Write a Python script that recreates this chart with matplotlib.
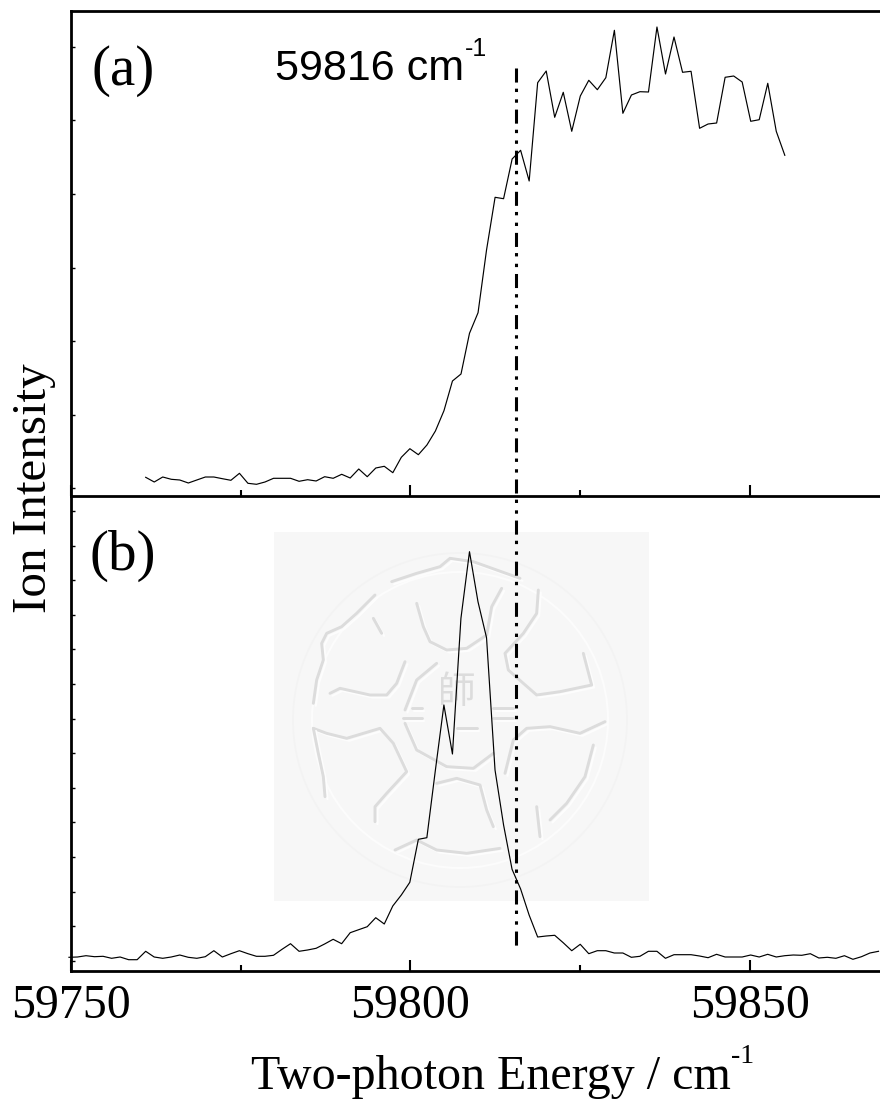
import matplotlib
matplotlib.use('Agg')
import matplotlib.pyplot as plt
from matplotlib.patches import Rectangle, Circle

W = 880
H = 1104
SERIF = 'Liberation Serif'
SANS = 'Liberation Sans'

# Panel (a) spectrum, intensity in arbitrary units
energy_a = [59761.00, 59762.26, 59763.51, 59764.77, 59766.02, 59767.28, 59768.53, 59769.79,
            59771.04, 59772.30, 59773.55, 59774.81, 59776.06, 59777.32, 59778.57, 59779.83,
            59781.08, 59782.34, 59783.59, 59784.85, 59786.10, 59787.36, 59788.61, 59789.87,
            59791.12, 59792.38, 59793.63, 59794.89, 59796.14, 59797.40, 59798.65, 59799.91,
            59801.16, 59802.42, 59803.67, 59804.93, 59806.18, 59807.44, 59808.69, 59809.95,
            59811.20, 59812.46, 59813.71, 59814.97, 59816.22, 59817.48, 59818.73, 59819.99,
            59821.24, 59822.50, 59823.75, 59825.01, 59826.26, 59827.52, 59828.77, 59830.03,
            59831.28, 59832.54, 59833.79, 59835.05, 59836.30, 59837.56, 59838.81, 59840.07,
            59841.32, 59842.58, 59843.83, 59845.09, 59846.34, 59847.60, 59848.85, 59850.11,
            59851.36, 59852.62, 59853.87, 59855.13]
signal_a = [17.7, 13, 18, 15.7, 15, 12, 15, 18, 18, 16.3, 14.7, 21.7, 11.7, 10.7, 13, 16.7,
            16.7, 16.7, 13.7, 15.3, 14, 18.3, 16.7, 20.7, 17, 26, 18.3, 27, 28.7, 22.3,
            37.7, 46.3, 40.3, 50, 64, 84.3, 114, 121, 161.7, 182.3, 245, 297.7, 296.3,
            336, 344.7, 314, 412.3, 424, 377.7, 402.7, 363.7, 399, 414.7, 405.3, 417.3,
            464.7, 381.7, 400, 403.3, 403, 468, 421, 458, 422.7, 423.7, 366.7, 371, 372,
            417.7, 419, 413, 373.7, 375.3, 411.7, 363.7, 339.7]

# Panel (b) spectrum
energy_b = [59749.70, 59750.96, 59752.21, 59753.47, 59754.72, 59755.98, 59757.23, 59758.49,
            59759.74, 59761.00, 59762.25, 59763.51, 59764.76, 59766.02, 59767.27, 59768.53,
            59769.78, 59771.04, 59772.29, 59773.55, 59774.80, 59776.06, 59777.31, 59778.57,
            59779.82, 59781.08, 59782.33, 59783.59, 59784.84, 59786.10, 59787.35, 59788.61,
            59789.86, 59791.12, 59792.37, 59793.63, 59794.88, 59796.14, 59797.39, 59798.65,
            59799.90, 59801.16, 59802.41, 59803.67, 59804.92, 59806.18, 59807.43, 59808.69,
            59809.94, 59811.20, 59812.45, 59813.71, 59814.96, 59816.22, 59817.47, 59818.73,
            59819.98, 59821.24, 59822.49, 59823.75, 59825.00, 59826.26, 59827.51, 59828.77,
            59830.02, 59831.28, 59832.53, 59833.79, 59835.04, 59836.30, 59837.55, 59838.81,
            59840.06, 59841.32, 59842.57, 59843.83, 59845.08, 59846.34, 59847.59, 59848.85,
            59850.10, 59851.36, 59852.61, 59853.87, 59855.12, 59856.38, 59857.63, 59858.89,
            59860.14, 59861.40, 59862.65, 59863.91, 59865.16, 59866.42, 59867.67, 59868.93]
signal_b = [13.7, 14, 15.3, 14.3, 14.7, 12.7, 14, 11.3, 11.3, 19.7, 14, 12.7, 14, 16, 13.7,
            12.7, 14.3, 20.3, 14, 17.3, 20.3, 17.3, 14.7, 14.7, 15.7, 21.7, 27.3, 19.7, 21,
            22.7, 27, 31.7, 27.3, 38.3, 41.3, 44.3, 53.3, 47, 65, 76, 88.7, 131.7, 133.3,
            201, 266, 217, 352.7, 419.3, 369.3, 333.3, 201, 146, 101.7, 82, 56, 34, 35, 35.7,
            28.3, 20.3, 26.7, 17.3, 20.3, 20.3, 18, 18, 13.7, 14.7, 19.7, 19.7, 12.7, 16.3,
            16.3, 16.3, 15, 13.3, 16.7, 14, 14, 14, 16, 14, 16.7, 14, 15.3, 16, 15.7, 17.3,
            13, 13.7, 12.7, 15.3, 11.7, 14.3, 18, 19.7]

x_major = [59750, 59800, 59850]
x_minor = [59775, 59825]
y_ticks_a = [7, 80, 154, 227.3, 301, 375, 448.3]
y_ticks_b = [10.3, 44.9, 79.5, 114.1, 148.7, 183.3, 217.9, 252.5, 287.1, 321.7, 356.3, 390.9, 425.5, 460.1]
threshold = 59815.6

# Watermark strokes, drawn behind the axes
emblem = [
    [(395, 185), (470, 160), (540, 140), (570, 115), (640, 125), (780, 175)],
    [(345, 225), (290, 280), (245, 320), (200, 340), (185, 370), (190, 420), (170, 480), (160, 550)],
    [(210, 520), (240, 505), (330, 525), (380, 525), (410, 490), (435, 425)],
    [(340, 295), (365, 340)],
    [(470, 250), (490, 320), (510, 365), (560, 390), (620, 385), (680, 345), (695, 260), (725, 205)],
    [(835, 210), (830, 280), (790, 340), (735, 400), (745, 450), (790, 490), (830, 525), (900, 515), (995, 495), (970, 400)],
    [(1035, 605), (960, 640), (870, 620), (800, 625), (760, 660), (735, 760)],
    [(1000, 675), (975, 770), (920, 850), (870, 900)],
    [(830, 860), (840, 950)],
    [(160, 625), (200, 640), (260, 655), (360, 625), (400, 670), (440, 755), (380, 820), (345, 860), (345, 905)],
    [(160, 625), (175, 700), (190, 770), (195, 830)],
    [(405, 990), (470, 960), (530, 990), (620, 1000), (720, 985)],
    [(530, 790), (590, 775), (660, 795), (680, 870), (700, 920)],
    [(530, 430), (470, 480), (435, 570)],
    [(435, 610), (470, 690), (560, 740), (640, 745), (700, 700)],
    [(455, 565), (485, 565)], [(430, 595), (485, 595)],
    [(700, 565), (760, 565)], [(700, 595), (760, 595)],
    [(590, 625), (650, 625)],
]


def fx(px):
    return px / W


def fy(py):
    return 1 - py / H


fig = plt.figure(figsize=(W / 100, H / 100), dpi=100, facecolor='white')

# Background layer in image pixels
bg = fig.add_axes([0, 0, 1, 1], zorder=0)
bg.set_xlim(0, W)
bg.set_ylim(H, 0)
bg.axis('off')
bg.add_patch(Rectangle((274, 532), 375, 369, facecolor='#f7f7f7', edgecolor='none'))
bg.add_patch(Circle((460, 720), 167, fill=False, edgecolor='#f3f3f3', lw=1.2))
bg.add_patch(Circle((460, 720), 148, fill=False, edgecolor='#fcfcfc', lw=1.5))
for stroke in emblem:
    bg.plot([262.5 + p[0] / 3 for p in stroke], [522.5 + p[1] / 3 for p in stroke],
            color='#fdfdfd', lw=1.5, solid_capstyle='round')
    bg.plot([260 + p[0] / 3 for p in stroke], [520 + p[1] / 3 for p in stroke],
            color='#dcdcdc', lw=2.1, solid_capstyle='round')
bg.text(457, 693, '師', family=['Noto Sans CJK TC', 'DejaVu Sans'], fontsize=27,
        color='#dcdcdc', ha='center', va='center')

ax_a = fig.add_axes([fx(71), fy(496), (W - 71) / W, 485 / H], zorder=1)
ax_b = fig.add_axes([fx(71), fy(971), (W - 71) / W, 475 / H], zorder=2)

ax_a.plot(energy_a, signal_a, color='black', lw=0.85)
ax_b.plot(energy_b, signal_b, color='black', lw=0.85, clip_on=False)

# Dash-dot-dot marker through both panels, dashes counted from the top end
ax_b.plot([threshold, threshold], [903, 25], color='black', lw=2.2, clip_on=False,
          dash_capstyle='butt', linestyle=(0, (4.6, 2, 1.1, 2.4, 1.1, 2.25)))

for ax in [ax_a, ax_b]:
    ax.patch.set_alpha(0)
    ax.set_xlim(59750, 59869.15)
    ax.spines['right'].set_visible(False)
    for side in ['left', 'bottom', 'top']:
        ax.spines[side].set_linewidth(2)
    ax.set_xticks(x_major)
    ax.set_xticks(x_minor, minor=True)
    ax.tick_params(axis='x', which='major', direction='in', length=8, width=1.5)
    ax.tick_params(axis='x', which='minor', direction='in', length=4.5, width=1.5)
    ax.tick_params(axis='y', direction='in', length=2.8, width=1)

ax_a.set_ylim(-1, 484)
ax_b.set_ylim(0, 475)
ax_a.set_yticks(y_ticks_a)
ax_b.set_yticks(y_ticks_b)
ax_a.set_yticklabels([])
ax_b.set_yticklabels([])
ax_a.set_xticklabels([])
ax_b.spines['top'].set_visible(False)
ax_b.set_xticklabels([str(v) for v in x_major], family=SERIF, fontsize=34.5)
ax_b.tick_params(axis='x', which='major', pad=9.5)

fig.text(fx(92), fy(85), '(a)', family=SERIF, fontsize=41)
fig.text(fx(89), fy(570), '(b)', family=SERIF, fontsize=41)
fig.text(fx(275), fy(80), '59816 cm', family=SANS, fontsize=31)
fig.text(fx(465), fy(56), '-1', family=SANS, fontsize=18)
fig.text(fx(251), fy(1089), 'Two-photon Energy / cm', family=SERIF, fontsize=34.6)
fig.text(fx(731), fy(1063), '-1', family=SERIF, fontsize=20)
fig.text(fx(45.7), fy(488.3), 'Ion Intensity', family=SERIF, fontsize=35.4, rotation=90,
         rotation_mode='anchor', ha='center', va='baseline')

fig.savefig('out.png', dpi=100, facecolor='white')
